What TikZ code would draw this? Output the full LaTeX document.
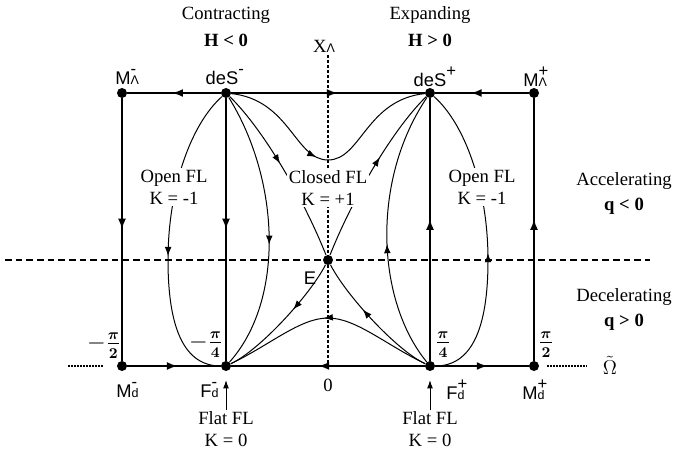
\documentclass[tikz,border=0pt]{standalone}
\usepackage{fontspec}
\usepackage{amsmath}
\usepackage{bm}
\setmainfont{Liberation Serif}
\setsansfont{Liberation Sans}
\usetikzlibrary{arrows.meta,decorations.markings}
\newcommand{\crit}[3]{#1\begingroup\setbox0\hbox{\fontsize{7.5}{8}\selectfont#2}\setbox2\hbox{\fontsize{10}{11}\selectfont#3}%
	\rlap{\raise6pt\copy2}\rlap{\copy0}\hskip\ifdim\wd0>\wd2 \wd0\else\wd2\fi\endgroup}

\begin{document}
\begin{tikzpicture}[x=0.6pt,y=-0.6pt,
		pt/.style={circle,fill,inner sep=0pt,minimum size=6pt},
		lab/.style={font=\sffamily\fontsize{11}{13}\selectfont,inner sep=1pt},
		txt/.style={font=\fontsize{11.2}{13.2}\selectfont,align=center,inner sep=1pt},
		frc/.style={font=\fontsize{13.5}{15}\selectfont,inner sep=1pt},
		fl/.style={txt,fill=white},
		axis/.style={line width=1.3pt},
		orbit/.style={line width=0.6pt},
		pointer/.style={line width=0.6pt,-{Latex[length=5pt,width=3.5pt]}},
		flow/.style={postaction={decorate},decoration={markings,mark=at position #1 with {\arrow{Latex[length=5.5pt,width=4pt]}}}},
		bigflow/.style={postaction={decorate},decoration={markings,mark=at position #1 with {\arrow{Latex[length=6.5pt,width=4.8pt]}}}}]
		\useasboundingbox (0,0) rectangle (679,460);
		\node[pt](mlm) at (122,93) {};
		\node[pt](dsm) at (226,93) {};
		\node[pt](dsp) at (430,93) {};
		\node[pt](mlp) at (534,93) {};
		\node[pt](mdm) at (122,366) {};
		\node[pt](fdm) at (226,366) {};
		\node[pt](fdp) at (430,366) {};
		\node[pt](mdp) at (534,366) {};
		\node[pt](e) at (328,260) {};
		% axes
		\coordinate (xtop) at (328,55);
		\coordinate (xbot) at (328,366);
		\coordinate (hl) at (5,260);
		\coordinate (hr) at (650,260);
		\coordinate (ol) at (68,366);
		\coordinate (olr) at (103,366);
		\coordinate (or) at (547,366);
		\coordinate (orr) at (587,366);
		\draw[line width=1.2pt,dash pattern=on 4pt off 2.4pt] (hl) -- (hr);
		\draw[line width=1.2pt,dash pattern=on 1.8pt off 1.2pt] (xtop) -- (xbot);
		\draw[line width=0.9pt,dash pattern=on 0.9pt off 0.9pt] (ol) -- (olr);
		\draw[line width=0.9pt,dash pattern=on 0.9pt off 0.9pt] (or) -- (orr);
		% boundary
		\draw[axis,bigflow=0.52] (dsm) -- (mlm);
		\draw[axis,bigflow=0.55] (dsm) -- (dsp);
		\draw[axis,bigflow=0.62] (mlp) -- (dsp);
		\draw[axis,bigflow=0.54] (mdm) -- (fdm);
		\draw[axis,bigflow=0.55] (fdp) -- (fdm);
		\draw[axis,bigflow=0.56] (fdp) -- (mdp);
		\draw[axis,bigflow=0.5] (mlm) -- (mdm);
		\draw[axis,bigflow=0.5] (dsm) -- (fdm);
		\draw[axis,bigflow=0.54] (fdp) -- (dsp);
		\draw[axis,bigflow=0.54] (mdp) -- (mlp);
		% orbits
		\draw[orbit,flow=0.56] (dsm) .. controls (190,125) and (168,190) .. (168,260) .. controls (168,330) and (185,366) .. (fdm);
		\draw[orbit,flow=0.45] (fdp) .. controls (471,366) and (488,330) .. (488,260) .. controls (488,190) and (466,125) .. (dsp);
		\draw[orbit,flow=0.55] (dsm) .. controls (280,180) and (285,300) .. (fdm);
		\draw[orbit,flow=0.45] (fdp) .. controls (376,300) and (371,180) .. (dsp);
		\draw[orbit,flow=0.45] (dsm) .. controls (290,100) and (295,160) .. (328,160) .. controls (361,160) and (366,100) .. (dsp);
		\draw[orbit,flow=0.52] (fdp) .. controls (386,345) and (356,318) .. (328,318) .. controls (300,318) and (270,345) .. (fdm);
		\draw[orbit,flow=0.45] (dsm) .. controls (262,128) and (302,195) .. (e);
		\draw[orbit,flow=0.59] (e) .. controls (354,195) and (394,128) .. (dsp);
		\draw[orbit,flow=0.4] (e) .. controls (310,295) and (260,350) .. (fdm);
		\draw[orbit,flow=0.6] (fdp) .. controls (396,350) and (346,295) .. (e);
		% labels
		\node[fl](openl) at (174,187) {Open FL\\K = -1};
		\node[fl](openr) at (482,187) {Open FL\\K = -1};
		\node[fl](closed) at (328,188) {Closed FL\\K = +1};
		\node[txt](contr) at (226,15) {Contracting};
		\node[txt](hneg) at (226,40) {\textbf{H < 0}};
		\node[txt](expa) at (430,15) {Expanding};
		\node[txt](hpos) at (430,40) {\textbf{H > 0}};
		\node[txt](xl) at (324,46) {X{\sffamily\fontsize{7.5}{8}\selectfont Λ}};
		\node[txt](acc) at (624,181) {Accelerating};
		\node[txt](qneg) at (624,206) {\textbf{q < 0}};
		\node[txt](dec) at (624,297) {Decelerating};
		\node[txt](qpos) at (624,322) {\textbf{q > 0}};
		\node[lab](lmlm) at (123,77) {\crit{M}{Λ}{-}};
		\node[lab](ldsm) at (222,77) {\crit{deS}{}{-}};
		\node[lab](ldsp) at (430,77) {\crit{deS}{}{+}};
		\node[lab](lmlp) at (531,77) {\crit{M}{Λ}{+}};
		\node[lab](lmdm) at (124,390) {\crit{M}{d}{-}};
		\node[lab](lfdm) at (206,390) {\crit{F}{d}{-}};
		\node[lab](lfdp) at (452,390) {\crit{F}{d}{+}};
		\node[lab](lmdp) at (530,390) {\crit{M}{d}{+}};
		\node[lab](le) at (310,278) {E};
		\node[txt](zero) at (328,385) {0};
		\node[txt](om) at (610,365) {\fontsize{13}{15}\selectfont$\tilde{\Omega}$};
		\node[frc](pm2) at (104,346) {$-\bm{\frac{\pi}{2}}$};
		\node[frc](pm4) at (206,345) {$-\bm{\frac{\pi}{4}}$};
		\node[frc](pp4) at (443,345) {$\bm{\frac{\pi}{4}}$};
		\node[frc](pp2) at (546,345) {$\bm{\frac{\pi}{2}}$};
		\node[txt,anchor=north](flatl) at (226,410) {Flat FL\\K = 0};
		\node[txt,anchor=north](flatr) at (430,410) {Flat FL\\K = 0};
		\coordinate (tipl) at (226,380);
		\coordinate (tipr) at (430,380);
		\draw[pointer] (flatl.north) -- (tipl);
		\draw[pointer] (flatr.north) -- (tipr);
\end{tikzpicture}
\end{document}
